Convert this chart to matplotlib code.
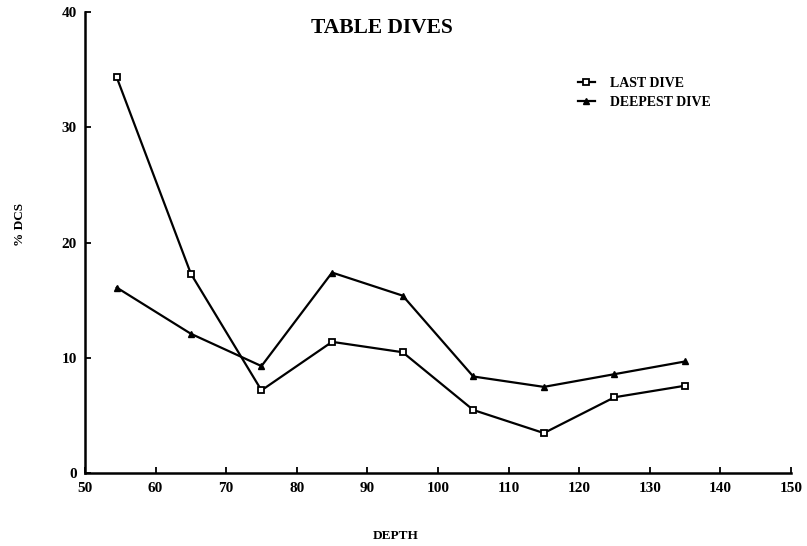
import matplotlib.pyplot as plt

# dybder og % DCS lest av figuren
dybde = [54.5, 65, 75, 85, 95, 105, 115, 125, 135]
siste_dykk = [34.3, 17.3, 7.2, 11.4, 10.5, 5.5, 3.5, 6.6, 7.6]
dypeste_dykk = [16.1, 12.1, 9.3, 17.4, 15.4, 8.4, 7.5, 8.6, 9.7]

x_ticks = [50, 60, 70, 80, 90, 100, 110, 120, 130, 140, 150]
y_ticks = [0, 10, 20, 30, 40]

plt.rcParams['font.family'] = ['Liberation Serif', 'DejaVu Serif']
plt.rcParams['font.weight'] = 'bold'

fig = plt.figure(figsize=(8.07, 5.46), dpi=100)
ax = fig.add_axes([0.1053, 0.1328, 0.8748, 0.846])

ax.plot(dybde, siste_dykk, color='black', lw=1.6, marker='s', markersize=5,
        markerfacecolor='white', markeredgecolor='black', markeredgewidth=1.3,
        label='LAST DIVE')
ax.plot(dybde, dypeste_dykk, color='black', lw=1.6, marker='^', markersize=5,
        markerfacecolor='black', label='DEEPEST DIVE')

ax.set_xlim(50, 150)
ax.set_ylim(0, 40)
ax.set_xticks(x_ticks)
ax.set_yticks(y_ticks)
ax.spines['top'].set_visible(False)
ax.spines['right'].set_visible(False)
ax.spines['left'].set_linewidth(1.8)
ax.spines['bottom'].set_linewidth(1.8)
ax.tick_params(direction='in', length=4, width=1.3, labelsize=11, pad=6)
for lab in ax.get_xticklabels() + ax.get_yticklabels():
    lab.set_fontweight('bold')

fig.text(382 / 807, 1 - 28 / 546, 'TABLE DIVES', ha='center', va='center',
         fontsize=15.5, fontweight='bold')
fig.text(396 / 807, 1 - 536 / 546, 'DEPTH', ha='center', va='center',
         fontsize=9.5, fontweight='bold')
fig.text(20 / 807, 1 - 224 / 546, '% DCS', ha='center', va='center',
         rotation=90, fontsize=9.5, fontweight='bold')

leg = ax.legend(loc='upper left', bbox_to_anchor=(578 / 807, 1 - 77 / 546),
                bbox_transform=fig.transFigure, frameon=False, fontsize=10,
                handlelength=1.2, handletextpad=1.1, labelspacing=0.4,
                borderpad=0, borderaxespad=0)
for t in leg.get_texts():
    t.set_fontweight('bold')

fig.savefig('out.png', dpi=100)
